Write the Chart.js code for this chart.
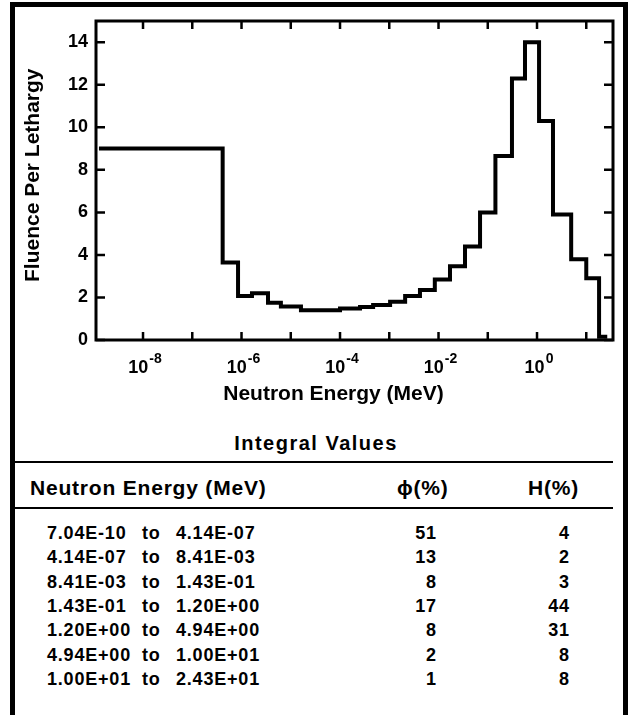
<!DOCTYPE html>
<html>
<head>
<meta charset="utf-8">
<script src="https://cdn.jsdelivr.net/npm/chart.js@4/dist/chart.umd.min.js"></script>
<style>
  html, body { margin: 0; padding: 0; background: #fff; }
  body { width: 631px; height: 715px; overflow: hidden; position: relative;
         font-family: "Liberation Sans", Arial, Helvetica, sans-serif; font-weight: bold; color: #000; }
  #frame { position: absolute; left: 10px; top: 2px; width: 608px; height: 760px;
           border-left: 5px solid #000; border-top: 5px solid #000; border-right: 5px solid #000; }
  #wrap { position: absolute; left: 0; top: 0; width: 631px; height: 420px; }
  .t { position: absolute; white-space: nowrap; line-height: 1; }
  .rule { position: absolute; left: 14px; width: 599px; height: 2px; background: #000; }
</style>
</head>
<body>
<div id="frame"></div>
<div id="wrap"><canvas id="fluenceChart" width="631" height="420"></canvas></div>
<div id="table"></div>
<script>
// lower bin edges (MeV) plus the last upper edge
const energyEdges = [1.4e-9, 4.14e-7, 8.5e-7, 1.63e-6, 3.45e-6, 6.3e-6, 1.61e-5, 1.0e-4,
  2.55e-4, 4.7e-4, 1.04e-3, 2.1e-3, 4.2e-3, 8.41e-3, 1.71e-2, 3.45e-2, 6.97e-2, 1.43e-1,
  0.31, 0.57, 1.1, 2.11, 4.94, 10, 18.2, 24.3];
// fluence per lethargy for each bin
const fluence = [9.0, 3.65, 2.07, 2.2, 1.75, 1.58, 1.40, 1.48, 1.55, 1.64, 1.80, 2.07,
  2.35, 2.85, 3.47, 4.4, 6.0, 8.65, 12.3, 14.0, 10.3, 5.9, 3.8, 2.9, 0.15];

const xDecades = [-8, -7, -6, -5, -4, -3, -2, -1, 0, 1];
const xLabelDecades = [-8, -6, -4, -2, 0];
const yTicks = [0, 2, 4, 6, 8, 10, 12, 14];

// integral values table
const rangeLow = ["7.04E-10", "4.14E-07", "8.41E-03", "1.43E-01", "1.20E+00", "4.94E+00", "1.00E+01"];
const rangeHigh = ["4.14E-07", "8.41E-03", "1.43E-01", "1.20E+00", "4.94E+00", "1.00E+01", "2.43E+01"];
const phiPct = [51, 13, 8, 17, 8, 2, 1];
const hPct = [4, 2, 3, 44, 31, 8, 8];

// step points: each bin value starts at its lower edge
const points = fluence.map((v, i) => ({ x: energyEdges[i], y: v }));
points.push({ x: energyEdges[energyEdges.length - 1], y: fluence[fluence.length - 1] });

const FONT = "'Liberation Sans', Arial, Helvetica, sans-serif";

// box round the plot with inward ticks on all four sides
const frameTicks = {
  id: "frameTicks",
  afterDatasetsDraw(chart) {
    const { ctx, chartArea: a, scales: { x, y } } = chart;
    ctx.save();
    ctx.strokeStyle = "#000";
    ctx.lineWidth = 3;
    ctx.strokeRect(a.left, a.top, a.right - a.left, a.bottom - a.top);
    ctx.lineWidth = 2.5;
    ctx.beginPath();
    x.ticks.forEach(t => {
      const px = x.getPixelForValue(t.value);
      ctx.moveTo(px, a.bottom); ctx.lineTo(px, a.bottom - 8);
      ctx.moveTo(px, a.top); ctx.lineTo(px, a.top + 8);
    });
    y.ticks.forEach(t => {
      const py = y.getPixelForValue(t.value);
      ctx.moveTo(a.left, py); ctx.lineTo(a.left + 9, py);
      ctx.moveTo(a.right, py); ctx.lineTo(a.right - 9, py);
    });
    ctx.stroke();
    ctx.restore();
  }
};

// "10" with a raised exponent under every second decade
const powerLabels = {
  id: "powerLabels",
  afterDraw(chart) {
    const { ctx, chartArea: a, scales: { x } } = chart;
    ctx.save();
    ctx.fillStyle = "#000";
    ctx.textBaseline = "alphabetic";
    ctx.textAlign = "left";
    xLabelDecades.forEach(e => {
      const px = x.getPixelForValue(Math.pow(10, e));
      const exp = String(e);
      ctx.font = "bold 18px " + FONT;
      const wb = ctx.measureText("10").width;
      ctx.font = "bold 14px " + FONT;
      const we = ctx.measureText(exp).width;
      const left = px - (wb + we + 1) / 2 + 2;
      ctx.font = "bold 18px " + FONT;
      ctx.fillText("10", left, a.bottom + 33);
      ctx.font = "bold 14px " + FONT;
      ctx.fillText(exp, left + wb + 1, a.bottom + 23);
    });
    ctx.restore();
  }
};

const ctx = document.getElementById("fluenceChart").getContext("2d");
const fluenceChart = new Chart(ctx, {
  type: "line",
  data: {
    datasets: [{
      data: points,
      stepped: "before",
      borderColor: "#000",
      borderWidth: 4,
      pointRadius: 0,
      fill: false,
      borderCapStyle: "square"
    }]
  },
  options: {
    responsive: false,
    devicePixelRatio: 1,
    animation: false,
    layout: { padding: { left: 18, top: 21, right: 18, bottom: 0 } },
    plugins: { legend: { display: false }, tooltip: { enabled: false } },
    scales: {
      x: {
        type: "logarithmic",
        min: 1.11e-9,
        max: 34.9,
        afterBuildTicks: (scale) => { scale.ticks = xDecades.map(e => ({ value: Math.pow(10, e) })); },
        afterFit: (scale) => { scale.height = 80; },
        grid: { display: false, drawTicks: false },
        border: { display: false },
        ticks: { display: false },
        title: {
          display: true,
          text: "Neutron Energy (MeV)\u2003\u2003",
          color: "#000",
          font: { family: FONT, size: 21, weight: "bold" },
          padding: { top: 0, bottom: 13 }
        }
      },
      y: {
        type: "linear",
        min: 0,
        max: 15,
        afterBuildTicks: (scale) => { scale.ticks = yTicks.map(v => ({ value: v })); },
        afterFit: (scale) => { scale.width = 78; },
        grid: { display: false, drawTicks: false },
        border: { display: false },
        ticks: {
          padding: 8,
          color: "#000",
          font: { family: FONT, size: 18, weight: "bold" }
        },
        title: {
          display: true,
          text: "\u2002Fluence Per Lethargy",
          color: "#000",
          font: { family: FONT, size: 21, weight: "bold" },
          padding: { top: 3, bottom: 0 }
        }
      }
    }
  },
  plugins: [frameTicks, powerLabels]
});

// integral values table below the plot
const table = document.getElementById("table");
function put(text, left, cy, size, spacing, align) {
  const d = document.createElement("div");
  d.className = "t";
  d.textContent = text;
  d.style.fontSize = size + "px";
  d.style.letterSpacing = spacing + "px";
  d.style.top = (cy - size / 2) + "px";
  if (align === "right") d.style.right = (631 - left - spacing) + "px";
  else if (align === "center") { d.style.left = left + "px"; d.style.transform = "translateX(-50%)"; }
  else d.style.left = left + "px";
  table.appendChild(d);
}
function rule(y) {
  const r = document.createElement("div");
  r.className = "rule";
  r.style.top = y + "px";
  table.appendChild(r);
}
put("Integral Values", 316, 443, 20, 1.5, "center");
rule(461);
put("Neutron Energy (MeV)", 30, 487, 21, 0.8);
put("\u03D5(%)", 397, 487, 21, 0.8);
put("H(%)", 528, 487, 21, 0.8);
rule(507);
rangeLow.forEach((lo, i) => {
  const cy = 533 + i * 24.3;
  put(lo, 47, cy, 18, 0.8);
  put("to", 142, cy, 18, 0.8);
  put(rangeHigh[i], 176, cy, 18, 0.8);
  put(String(phiPct[i]), 436, cy, 18, 0.8, "right");
  put(String(hPct[i]), 569, cy, 18, 0.8, "right");
});
</script>
</body>
</html>
